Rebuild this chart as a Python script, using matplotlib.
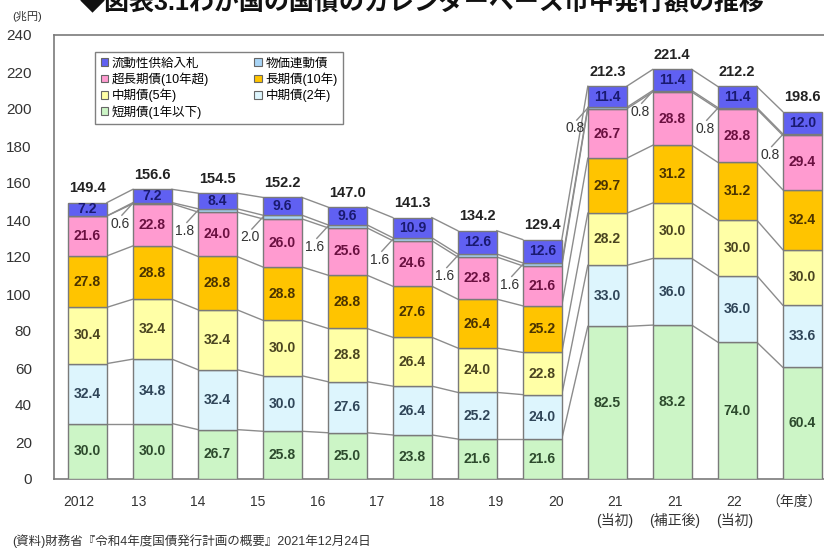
"""
国債カレンダーベース市中発行額の推移：積み上げ棒グラフ
"""

import matplotlib
matplotlib.use("Agg")  # 非交互式后端
import matplotlib.pyplot as plt
from matplotlib.patches import Patch

plt.rcParams["font.family"] = ["Liberation Sans", "Noto Sans CJK JP"]

# ========== 数据 ==========

year_labels = ["2012", "13", "14", "15", "16", "17", "18", "19", "20",
               "21\n(当初)", "21\n(補正後)", "22\n(当初)"]

short_term = [30.0, 30.0, 26.7, 25.8, 25.0, 23.8, 21.6, 21.6, 82.5, 83.2, 74.0, 60.4]
mid_2y = [32.4, 34.8, 32.4, 30.0, 27.6, 26.4, 25.2, 24.0, 33.0, 36.0, 36.0, 33.6]
mid_5y = [30.4, 32.4, 32.4, 30.0, 28.8, 26.4, 24.0, 22.8, 28.2, 30.0, 30.0, 30.0]
long_10y = [27.8, 28.8, 28.8, 28.8, 28.8, 27.6, 26.4, 25.2, 29.7, 31.2, 31.2, 32.4]
super_long = [21.6, 22.8, 24.0, 26.0, 25.6, 24.6, 22.8, 21.6, 26.7, 28.8, 28.8, 29.4]
inflation_linked = [0.0, 0.6, 1.8, 2.0, 1.6, 1.6, 1.6, 1.6, 0.8, 0.8, 0.8, 0.8]
liquidity = [7.2, 7.2, 8.4, 9.6, 9.6, 10.9, 12.6, 12.6, 11.4, 11.4, 11.4, 12.0]
totals = [149.4, 156.6, 154.5, 152.2, 147.0, 141.3, 134.2, 129.4,
          212.3, 221.4, 212.2, 198.6]

y_ticks = [0, 20, 40, 60, 80, 100, 120, 140, 160, 180, 200, 220, 240]

# 系列：(名称, 数值, 填充色, 文字色)  下から順に
SERIES = [
    ("短期債(1年以下)", short_term, "#CCF5C6", "#2D4A2D"),
    ("中期債(2年)", mid_2y, "#DDF5FD", "#2F4558"),
    ("中期債(5年)", mid_5y, "#FFFFA6", "#4A4420"),
    ("長期債(10年)", long_10y, "#FFC400", "#4A3300"),
    ("超長期債(10年超)", super_long, "#FF9BD0", "#6A1040"),
    ("物価連動債", inflation_linked, "#A8D4F5", "#333333"),
    ("流動性供給入札", liquidity, "#6060F2", "#1A1A70"),
]

BAR_W = 0.6
EDGE = "#7A7A7A"
LINE = "#8C8C8C"


def main() -> None:
    fig = plt.figure(figsize=(8.24, 5.52), dpi=100)
    ax = fig.add_axes([54 / 824, 73 / 552, 1.0 - 54 / 824 + 0.002, 444 / 552])

    n = len(totals)
    xs = list(range(n))

    # 累计高度
    bottoms = [0.0] * n
    levels = []
    for name, vals, color, tcolor in SERIES:
        ax.bar(xs, vals, BAR_W, bottom=bottoms, color=color,
               edgecolor=EDGE, linewidth=1.0, zorder=3)
        for i in xs:
            v = vals[i]
            mid = bottoms[i] + v / 2
            if name == "物価連動債":
                if v <= 0:
                    continue
                # 左侧标注 + 引出线
                lx = i - 0.5
                ly = mid - 11
                ax.text(lx, ly, f"{v:.1f}", ha="center", va="center",
                        fontsize=10, color="#333333", zorder=5)
                ax.plot([lx + 0.03, i - BAR_W / 2], [ly + 4.5, mid],
                        color=LINE, lw=1.0, zorder=2)
            else:
                ax.text(i, mid, f"{v:.1f}", ha="center", va="center",
                        fontsize=10, fontweight="semibold", color=tcolor, zorder=5)
        bottoms = [b + v for b, v in zip(bottoms, vals)]
        levels.append(list(bottoms))

    # 各段の連結線
    for lev in levels:
        for i in range(n - 1):
            ax.plot([i + BAR_W / 2, i + 1 - BAR_W / 2], [lev[i], lev[i + 1]],
                    color=LINE, lw=1.0, zorder=2)

    # 合計
    for i, t in enumerate(totals):
        ax.text(i, t + 4, f"{t:.1f}", ha="center", va="bottom",
                fontsize=10.5, fontweight="bold", color="#222222", zorder=5)

    ax.set_xlim(-0.515, (824 - 87.5) / 65 + 0.03)
    ax.set_ylim(0, 240)
    ax.set_yticks(y_ticks)
    ax.tick_params(axis="y", length=0, pad=16, labelsize=11, labelcolor="#333333")
    ax.set_xticks([])
    for s in ["left", "top", "bottom"]:
        ax.spines[s].set_color("#7A7A7A")
        ax.spines[s].set_linewidth(1.2)
    ax.spines["right"].set_visible(False)

    # 年度ラベル（原図では棒と少しずれている）
    for k, lab in enumerate(year_labels):
        lx = (79 - 87.5) / 65 + k * 59.6 / 65
        ax.text(lx, -8.5, lab, ha="center", va="top", fontsize=10,
                color="#333333", linespacing=1.35, clip_on=False)
    ax.text((79 - 87.5) / 65 + 12 * 59.6 / 65, -8.5, "（年度）", ha="center",
            va="top", fontsize=10, color="#333333", clip_on=False)

    # 凡例（行ごとの並びに合わせて列順で渡す）
    order = [6, 4, 2, 0, 5, 3, 1]
    handles = [Patch(facecolor=SERIES[k][2], edgecolor="#666666", linewidth=0.8)
               for k in order]
    names = [SERIES[k][0] for k in order]
    leg = ax.legend(handles, names, ncol=2, loc="upper left",
                    bbox_to_anchor=(95 / 824, 1 - 52 / 552),
                    bbox_transform=fig.transFigure, borderaxespad=0,
                    fontsize=9, handlelength=0.6, handleheight=0.6,
                    handletextpad=0.3, labelspacing=0.22, columnspacing=3.6,
                    borderpad=0.45, fancybox=False, edgecolor="#808080",
                    framealpha=1)
    leg.get_frame().set_linewidth(1.0)
    leg.set_zorder(6)

    fig.text(0.512, 1 - 10 / 552, "◆図表3.1わが国の国債のカレンダーベース市中発行額の推移",
             ha="center", va="baseline", fontsize=18, fontweight="bold", color="#111111")
    fig.text(12 / 824, 1 - 17 / 552, "(兆円)", ha="left", va="center",
             fontsize=8, color="#333333")
    fig.text(12 / 824, 1 - 541 / 552, "(資料)財務省『令和4年度国債発行計画の概要』2021年12月24日",
             ha="left", va="center", fontsize=9, color="#333333")

    fig.savefig("out.png", dpi=100)
    plt.close(fig)


if __name__ == "__main__":
    main()
